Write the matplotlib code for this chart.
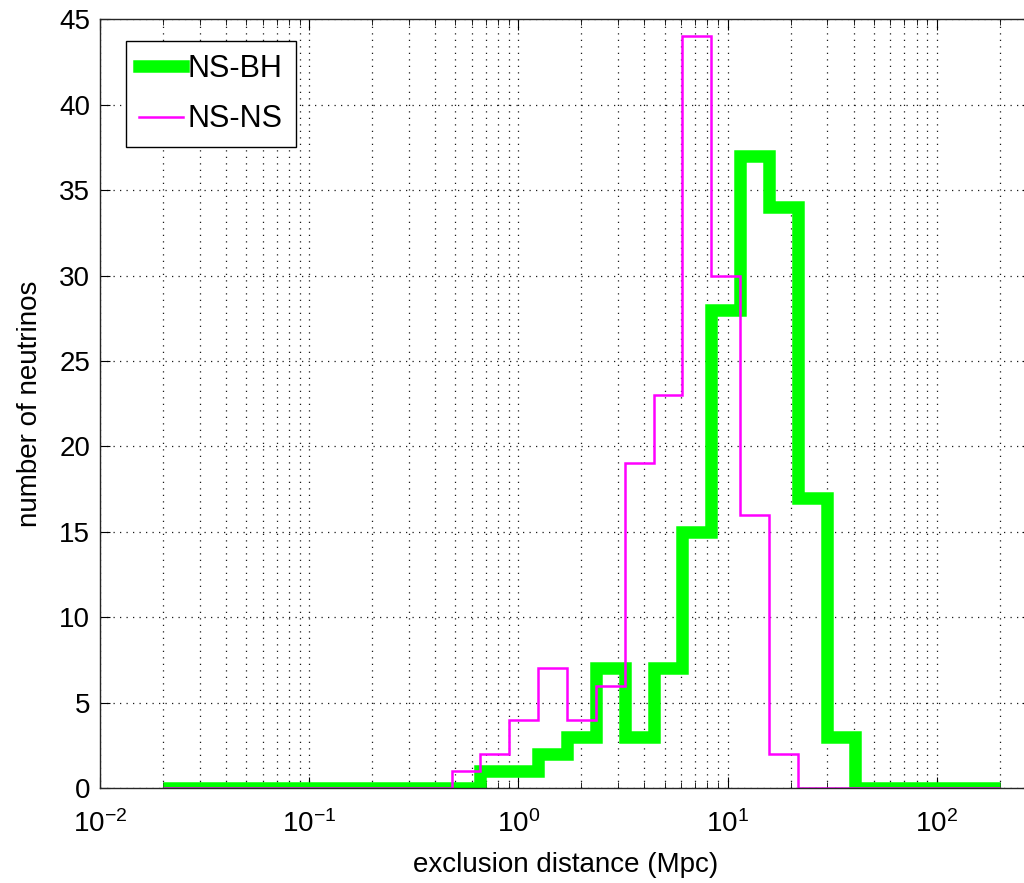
import numpy as np
import matplotlib
matplotlib.use('Agg')
import matplotlib.pyplot as plt

plt.rcParams['font.family'] = ['Liberation Sans', 'DejaVu Sans']
plt.rcParams['mathtext.fontset'] = 'custom'
plt.rcParams['mathtext.rm'] = 'Liberation Sans'
plt.rcParams['mathtext.it'] = 'Liberation Sans:italic'
plt.rcParams['mathtext.default'] = 'regular'

# histogram bins: 29 log-spaced bins between 0.02 and 200 Mpc
bin_lo = 0.02
bin_hi = 200
n_bins = 29

# counts per bin
ns_bh = [0, 0, 0, 0, 0, 0, 0, 0, 0, 0,
         0, 1, 1, 2, 3, 7, 3, 7, 15, 28,
         37, 34, 17, 3, 0, 0, 0, 0, 0]
ns_ns = [0, 0, 0, 0, 0, 0, 0, 0, 0, 0,
         1, 2, 4, 7, 4, 6, 19, 23, 44, 30,
         16, 2, 0, 0, 0, 0, 0, 0, 0]

yticks = [0, 5, 10, 15, 20, 25, 30, 35, 40, 45]

edges = np.logspace(np.log10(bin_lo), np.log10(bin_hi), n_bins + 1)

# axes runs a little past the right edge of the picture (cropped like the original)
ax_w = 932
fig = plt.figure(figsize=(10.24, 8.83), dpi=100)
ax = fig.add_axes([100 / 1024, 1 - 788 / 883, ax_w / 1024, 768.7 / 883])

ax.stairs(ns_bh, edges, color=(0, 1, 0), lw=9, label='NS-BH',
          joinstyle='miter', capstyle='butt', baseline=None)
ax.stairs(ns_ns, edges, color=(1, 0, 1), lw=1.8, label='NS-NS',
          joinstyle='miter', capstyle='butt', baseline=None)

ax.set_xscale('log')
ax.set_xlim(0.01, 10 ** (-2 + ax_w / 209.2))
ax.set_ylim(0, 45)
ax.set_yticks(yticks)

grid_style = dict(color='0.1', lw=0.9, linestyle=(0, (1, 4.2)))
ax.grid(True, which='major', axis='both', **grid_style)
ax.grid(True, which='minor', axis='x', **grid_style)
ax.set_axisbelow(True)

ax.tick_params(which='both', direction='in', top=True, right=True,
               labelsize=20, colors='black')
ax.tick_params(axis='x', which='major', length=8, pad=16)
ax.tick_params(axis='x', which='minor', length=4.5)
ax.tick_params(axis='y', which='major', length=7, pad=7)
for s in ax.spines.values():
    s.set_color('0.15')
    s.set_linewidth(1)

ax.set_xlabel('exclusion distance (Mpc)', fontsize=20, labelpad=10)
ax.set_ylabel('number of neutrinos', fontsize=20, labelpad=12)

leg = ax.legend(loc='upper left', bbox_to_anchor=(26 / ax_w, 1 - 21.5 / 768.7),
                borderaxespad=0, fontsize=22, handlelength=1.45,
                handletextpad=0.15, borderpad=0.42, labelspacing=0.68,
                fancybox=False, framealpha=1, edgecolor='black')
leg.get_frame().set_linewidth(1)

fig.savefig('out.png', dpi=100)
